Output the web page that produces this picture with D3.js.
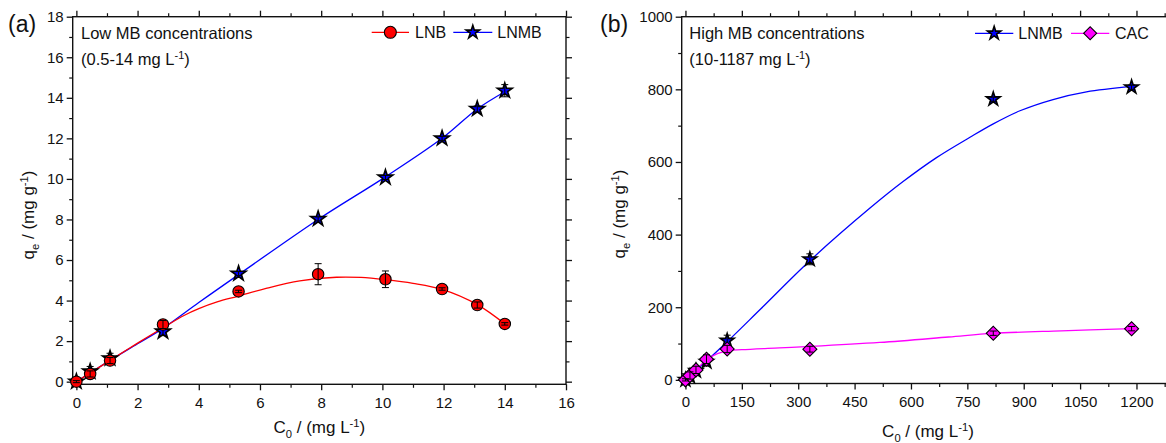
<!DOCTYPE html>
<html>
<head>
<meta charset="utf-8">
<script src="https://cdn.jsdelivr.net/npm/d3@7"></script>
<style>
  html, body { margin: 0; padding: 0; background: #fff; }
  svg { display: block; }
  text { font-family: "Liberation Sans", Arial, Helvetica, sans-serif; fill: #111; }
</style>
</head>
<body>
<svg id="chart" width="1166" height="443"></svg>
<script>
// ---------- Panel (a): low MB concentrations ----------
const lowC0      = [0, 0.45, 1.1, 2.83, 5.3, 7.9, 10.1, 11.95, 13.1, 14.0];
const lnbQe      = [0, 0.38, 1.04, 2.82, 4.45, 5.3, 5.05, 4.57, 3.78, 2.85];
const lnbErr     = [0.05, 0.15, 0.15, 0.2, 0.06, 0.52, 0.41, 0.06, 0.15, 0.06];
const lnmbLowQe  = [0, 0.5, 1.15, 2.47, 5.33, 8.03, 10.07, 12.0, 13.45, 14.35];
const lnmbLowErr = [0.05, 0.25, 0.25, 0.2, 0.1, 0.1, 0.1, 0.1, 0.15, 0.3];

// fitted curves, panel (a)
const lnbFitX     = [0, 1.1, 2.0, 2.9, 3.5, 4.0, 4.6, 5.3, 6.2, 7.3, 8.5, 9.3, 10.1, 11.0, 11.95, 13.1, 14.0];
const lnbFitY     = [0, 1.05, 1.9, 2.72, 3.25, 3.6, 3.93, 4.22, 4.6, 4.97, 5.15, 5.14, 5.03, 4.85, 4.55, 3.8, 2.85];
const lnmbLowFitX = [0, 0.45, 1.1, 2.0, 2.83, 4.0, 5.3, 7.9, 10.1, 11.95, 13.1, 14.0];
const lnmbLowFitY = [0, 0.43, 1.05, 1.87, 2.63, 3.9, 5.28, 8.0, 10.1, 12.0, 13.45, 14.3];

// ---------- Panel (b): high MB concentrations ----------
const highC0      = [0, 12, 28, 56, 111, 331, 819, 1187];
const lnmbHighQe  = [0, 10, 25, 50, 108, 332, 773, 806];
const lnmbHighErr = [3, 8, 10, 12, 15, 15, 6, 6];
const cacQe       = [0, 12, 27.5, 57, 85, 84.5, 128.5, 141];
const cacErr      = [3, 10, 10, 12, 10, 8, 6, 6];

// fitted curves, panel (b)
const lnmbHighFitX = [0, 56, 111, 200, 333, 491, 579, 668, 757, 819, 890, 978, 1067, 1187];
const lnmbHighFitY = [0, 52, 105, 195, 330, 473, 546, 612, 668, 705, 741, 772, 793, 808];
const cacFitX      = [0, 12, 28, 56, 85, 113, 150, 250, 333, 517, 700, 818, 1000, 1187];
const cacFitY      = [0, 11, 27, 55, 72, 80, 83, 88, 92, 103, 118, 128, 135, 141];

// tick labels
const lowXTicks  = [0, 2, 4, 6, 8, 10, 12, 14, 16];
const lowYTicks  = [0, 2, 4, 6, 8, 10, 12, 14, 16, 18];
const highXTicks = [0, 150, 300, 450, 600, 750, 900, 1050, 1200];
const highYTicks = [0, 200, 400, 600, 800, 1000];

const RED = "#ff0000", BLUE = "#0000ff", MAGENTA = "#ff00ff";

const svg = d3.select("#chart");

// text built from plain, subscript and superscript pieces
function rich(sel, parts, size) {
  let shift = 0;
  parts.forEach(p => {
    const target = p.sub ? size * 0.28 : p.sup ? -size * 0.38 : 0;
    const t = sel.append("tspan").attr("dy", target - shift);
    shift = target;
    if (p.sub || p.sup) t.attr("font-size", size * 0.66);
    t.text(p.t);
  });
  return sel;
}

function starSize(r) { return r * r / 0.8908130915292852; }

function drawMarker(g, kind, cx, cy, color, r) {
  if (kind === "circle") {
    g.append("circle").attr("cx", cx).attr("cy", cy).attr("r", r)
      .attr("fill", color).attr("stroke", "#000").attr("stroke-width", 1.1);
  } else if (kind === "star") {
    g.append("path").attr("d", d3.symbol().type(d3.symbolStar).size(starSize(r))())
      .attr("transform", `translate(${cx},${cy})`)
      .attr("fill", color).attr("stroke", "#000").attr("stroke-width", 1.6)
      .attr("stroke-linejoin", "miter");
  } else {
    g.append("path").attr("d", d3.symbol().type(d3.symbolSquare).size(2 * r * r)())
      .attr("transform", `translate(${cx},${cy}) rotate(45)`)
      .attr("fill", color).attr("stroke", "#000").attr("stroke-width", 1.1);
  }
}

function panel(cfg) {
  const g = svg.append("g");
  const x = d3.scaleLinear().domain(cfg.xDomain).range(cfg.xRange);
  const y = d3.scaleLinear().domain(cfg.yDomain).range(cfg.yRange);
  const [x0, x1] = cfg.xRange, [y0, y1] = cfg.yRange;

  const axisDefs = [
    { ax: d3.axisBottom(x), tr: `translate(0,${y0})`, major: cfg.xTicks, minor: cfg.xMinor, label: true, bottom: true },
    { ax: d3.axisTop(x),    tr: `translate(0,${y1})`, major: cfg.xTicks, minor: cfg.xMinor, label: false },
    { ax: d3.axisLeft(y),   tr: `translate(${x0},0)`, major: cfg.yTicks, minor: cfg.yMinor, label: true },
    { ax: d3.axisRight(y),  tr: `translate(${x1},0)`, major: cfg.yTicks, minor: cfg.yMinor, label: false }
  ];
  axisDefs.forEach(d => {
    const major = g.append("g").attr("transform", d.tr)
      .call(d.ax.tickValues(d.major).tickSize(6).tickPadding(3)
        .tickFormat(d.label ? d3.format("d") : () => ""));
    major.select(".domain").remove();
    major.selectAll("line").attr("stroke", "#111").attr("stroke-width", 1.3);
    if (d.label) {
      major.selectAll("text").attr("font-size", 15).attr("fill", "#111")
        .attr("font-family", "Liberation Sans, Arial, sans-serif");
      if (d.bottom) major.selectAll("text").attr("dy", "0.95em");
    } else {
      major.selectAll("text").remove();
    }
    const minor = g.append("g").attr("transform", d.tr)
      .call(d.ax.tickValues(d.minor).tickSize(3.5).tickFormat(() => ""));
    minor.select(".domain").remove();
    minor.selectAll("text").remove();
    minor.selectAll("line").attr("stroke", "#111").attr("stroke-width", 1.2);
  });

  // frame
  g.append("rect").attr("x", x0).attr("y", y1).attr("width", x1 - x0).attr("height", y0 - y1)
    .attr("fill", "none").attr("stroke", "#111").attr("stroke-width", 1.4);

  // fit curves
  const line = d3.line().x(d => x(d[0])).y(d => y(d[1])).curve(d3.curveCatmullRom.alpha(0.5));
  cfg.series.forEach(s => {
    g.append("path").datum(d3.zip(s.fitX, s.fitY)).attr("d", line)
      .attr("fill", "none").attr("stroke", s.color).attr("stroke-width", 1.3);
  });
  // markers, with error bars on top
  cfg.series.forEach(s => {
    const mg = g.append("g");
    s.qe.forEach((v, i) => {
      drawMarker(mg, s.kind, x(cfg.c0[i]), y(v), s.color, s.r);
    });
    s.qe.forEach((v, i) => {
      const cx = x(cfg.c0[i]), top = y(v + s.err[i]), bot = y(v - s.err[i]);
      mg.append("line").attr("x1", cx).attr("x2", cx).attr("y1", top).attr("y2", bot)
        .attr("stroke", "#000").attr("stroke-width", 1);
      [top, bot].forEach(yy => mg.append("line").attr("x1", cx - 3.5).attr("x2", cx + 3.5)
        .attr("y1", yy).attr("y2", yy).attr("stroke", "#000").attr("stroke-width", 1));
    });
  });

  // legend
  cfg.legend.forEach(l => {
    g.append("line").attr("x1", l.x1).attr("x2", l.x2).attr("y1", l.y).attr("y2", l.y)
      .attr("stroke", l.color).attr("stroke-width", 1.3);
    drawMarker(g, l.kind, (l.x1 + l.x2) / 2, l.y, l.color, l.r);
    g.append("text").attr("x", l.tx).attr("y", l.y + 6).attr("font-size", 16).text(l.label);
  });

  // panel letter and notes
  g.append("text").attr("x", cfg.letterX).attr("y", 32).attr("font-size", 23).text(cfg.letter);
  g.append("text").attr("x", cfg.noteX).attr("y", 38.5).attr("font-size", 16.5).text(cfg.note1);
  rich(g.append("text").attr("x", cfg.noteX).attr("y", 65).attr("font-size", 16.5),
    [{ t: cfg.note2 }, { t: "-1", sup: true }, { t: ")" }], 16.5);

  // axis titles
  rich(g.append("text").attr("x", (x0 + x1) / 2 + cfg.xTitleShift).attr("y", cfg.xTitleY)
      .attr("font-size", 17).attr("text-anchor", "middle"),
    [{ t: "C" }, { t: "0", sub: true }, { t: " / (mg L" }, { t: "-1", sup: true }, { t: ")" }], 17);
  rich(g.append("text").attr("transform", `translate(${cfg.yTitleX},${cfg.yTitleY}) rotate(-90)`)
      .attr("font-size", 17).attr("text-anchor", "middle"),
    [{ t: "q" }, { t: "e", sub: true }, { t: " / (mg g" }, { t: "-1", sup: true }, { t: ")" }], 17);
}

panel({
  xDomain: [-0.12, 16], xRange: [72.7, 566],
  yDomain: [-0.13, 18], yRange: [384.3, 16.7],
  xTicks: lowXTicks, xMinor: d3.range(1, 16, 2),
  yTicks: lowYTicks, yMinor: d3.range(1, 18, 2),
  c0: lowC0,
  series: [
    { kind: "star", color: BLUE, r: 7.8, qe: lnmbLowQe, err: lnmbLowErr, fitX: lnmbLowFitX, fitY: lnmbLowFitY },
    { kind: "circle", color: RED, r: 5.7, qe: lnbQe, err: lnbErr, fitX: lnbFitX, fitY: lnbFitY }
  ],
  legend: [
    { x1: 371.7, x2: 409, y: 32.3, tx: 415, color: RED, kind: "circle", r: 6, label: "LNB" },
    { x1: 453.3, x2: 492.3, y: 32.3, tx: 497.3, color: BLUE, kind: "star", r: 7, label: "LNMB" }
  ],
  letter: "(a)", letterX: 8,
  note1: "Low MB concentrations", note2: "(0.5-14 mg L", noteX: 81,
  xTitleShift: 0, xTitleY: 433, yTitleX: 34, yTitleY: 215
});

panel({
  xDomain: [-10, 1290], xRange: [681.7, 1170.3],
  yDomain: [-10, 1000], yRange: [383.5, 16.7],
  xTicks: highXTicks, xMinor: d3.range(75, 1290, 150),
  yTicks: highYTicks, yMinor: d3.range(100, 1000, 200),
  c0: highC0,
  series: [
    { kind: "star", color: BLUE, r: 7.2, qe: lnmbHighQe, err: lnmbHighErr, fitX: lnmbHighFitX, fitY: lnmbHighFitY },
    { kind: "diamond", color: MAGENTA, r: 7, qe: cacQe, err: cacErr, fitX: cacFitX, fitY: cacFitY }
  ],
  legend: [
    { x1: 975, x2: 1013.3, y: 33.3, tx: 1018.3, color: BLUE, kind: "star", r: 7, label: "LNMB" },
    { x1: 1071, x2: 1109.3, y: 33.3, tx: 1115, color: MAGENTA, kind: "diamond", r: 6.5, label: "CAC" }
  ],
  letter: "(b)", letterX: 600,
  note1: "High MB concentrations", note2: "(10-1187 mg L", noteX: 689.3,
  xTitleShift: 2, xTitleY: 437, yTitleX: 625, yTitleY: 214
});
</script>
</body>
</html>
